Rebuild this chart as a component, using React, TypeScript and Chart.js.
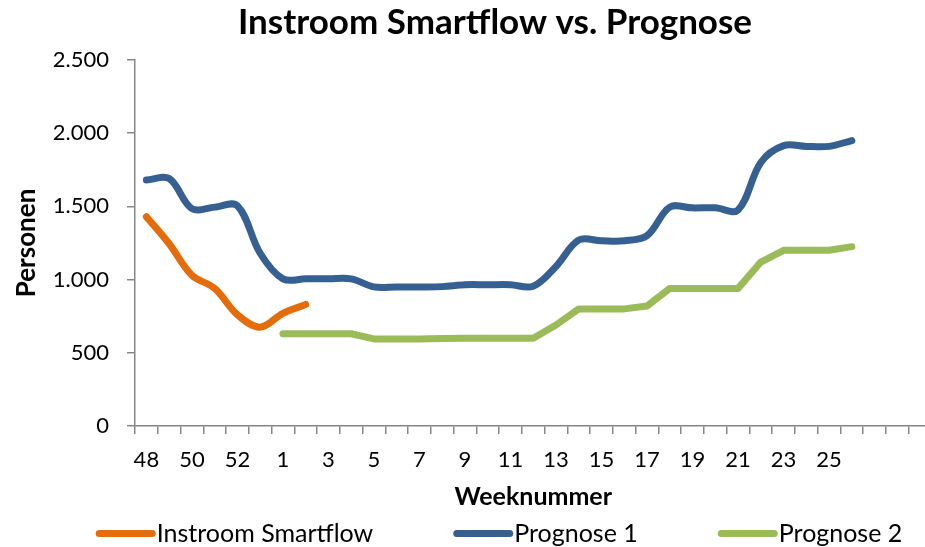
import React, { useEffect, useRef } from 'react';
import { Chart, registerables } from 'chart.js';

Chart.register(...registerables);

// ---- data ----
const weeks: string[] = [
  '48', '49', '50', '51', '52', '53',
  '1', '2', '3', '4', '5', '6', '7', '8', '9', '10', '11', '12', '13',
  '14', '15', '16', '17', '18', '19', '20', '21', '22', '23', '24', '25', '26',
  '', '', '',
];

const instroomSmartflow: (number | null)[] = [1430, 1245, 1030, 940, 760, 675, 770, 830];

const prognose1: (number | null)[] = [
  1680, 1690, 1485, 1495, 1505, 1180,
  1005, 1005, 1005, 1005, 950, 950, 950, 952, 965, 965, 965, 955, 1090,
  1270, 1265, 1265, 1300, 1495, 1490, 1490, 1475, 1800, 1915, 1910, 1910, 1950,
];

const prognose2: (number | null)[] = [
  null, null, null, null, null, null,
  630, 630, 630, 630, 595, 595, 595, 598, 600, 600, 600, 600, 690,
  800, 800, 800, 820, 940, 940, 940, 940, 1120, 1200, 1200, 1200, 1225,
];

const seriesNames = ['Instroom Smartflow', 'Prognose 1', 'Prognose 2'];
const seriesColors = ['#E46C0A', '#376092', '#9BBB59'];

const yMin = 0;
const yMax = 2500;
const yStep = 500;

const titleText = 'Instroom Smartflow vs. Prognose';
const xTitle = 'Weeknummer';
const yTitle = 'Personen';

const FONT = 'Lato';
const AXIS_COLOR = '#868686';

const fmt = (v: number) => String(Math.round(v)).replace(/\B(?=(\d{3})+(?!\d))/g, '.');

const legendPlugin = {
  id: 'excelLegend',
  afterDraw(chart: any) {
    const ctx = chart.ctx as CanvasRenderingContext2D;
    const ds = chart.data.datasets;
    const fontSize = 25;
    const swatch = 60;
    const lw = 7;
    const gap = 80;
    ctx.save();
    ctx.font = `${fontSize}px ${FONT}`;
    const widths = ds.map((d: any) => swatch + 1 + ctx.measureText(d.label).width);
    const total = widths.reduce((a: number, b: number) => a + b, 0) + gap * (ds.length - 1);
    let x = (chart.width - total) / 2 + 4;
    const y = chart.height - 13.5;
    ds.forEach((d: any, i: number) => {
      ctx.beginPath();
      ctx.strokeStyle = d.borderColor;
      ctx.lineWidth = lw;
      ctx.lineCap = 'round';
      ctx.moveTo(x + lw / 2, y);
      ctx.lineTo(x + swatch - lw / 2, y);
      ctx.stroke();
      ctx.fillStyle = '#000';
      ctx.textAlign = 'left';
      ctx.textBaseline = 'middle';
      ctx.fillText(d.label, x + swatch + 1, y);
      x += widths[i] + gap;
    });
    ctx.restore();
  },
};

export default function App() {
  const ref = useRef<HTMLCanvasElement | null>(null);

  useEffect(() => {
    if (!ref.current) return;
    const mk = (label: string, data: (number | null)[], color: string, tension: number) => ({
      label,
      data,
      borderColor: color,
      backgroundColor: color,
      borderWidth: 7,
      borderCapStyle: 'round' as const,
      borderJoinStyle: 'round' as const,
      pointRadius: 0,
      pointHoverRadius: 0,
      tension,
      fill: false,
      spanGaps: false,
    });

    const chart = new Chart(ref.current, {
      type: 'line',
      data: {
        labels: weeks,
        datasets: [
          mk(seriesNames[0], instroomSmartflow, seriesColors[0], 0.35),
          mk(seriesNames[1], prognose1, seriesColors[1], 0.35),
          mk(seriesNames[2], prognose2, seriesColors[2], 0),
        ],
      },
      options: {
        responsive: false,
        animation: false,
        devicePixelRatio: 1,
        layout: { padding: { left: 0, right: 0, top: 0, bottom: 32 } },
        plugins: {
          legend: { display: false },
          tooltip: { enabled: false },
          title: {
            display: true,
            text: titleText,
            color: '#000',
            font: { family: FONT, size: 35, weight: 'bold' },
            padding: { top: 1.5, bottom: 16.5 },
          },
        },
        scales: {
          x: {
            type: 'category',
            offset: true,
            grid: {
              offset: true,
              drawOnChartArea: false,
              drawTicks: true,
              tickLength: 8,
              color: AXIS_COLOR,
              lineWidth: 1.5,
            },
            border: { display: true, color: AXIS_COLOR, width: 1.5 },
            ticks: {
              autoSkip: false,
              maxRotation: 0,
              minRotation: 0,
              color: '#000',
              padding: 13,
              font: { family: FONT, size: 22 },
              callback: (_v: any, i: number) => (i % 2 === 0 ? weeks[i] : ''),
            },
            title: {
              display: true,
              text: xTitle,
              color: '#000',
              font: { family: FONT, size: 25, weight: 'bold' },
              padding: { top: 0, bottom: 3 },
            },
            afterFit: (s: any) => {
              s.height = 89;
            },
          },
          y: {
            type: 'linear',
            min: yMin,
            max: yMax,
            grid: {
              drawOnChartArea: false,
              drawTicks: true,
              tickLength: 8,
              color: AXIS_COLOR,
              lineWidth: 1.5,
            },
            border: { display: true, color: AXIS_COLOR, width: 1.5 },
            ticks: {
              stepSize: yStep,
              color: '#000',
              padding: 18,
              font: { family: FONT, size: 22 },
              callback: (v: any) => fmt(Number(v)),
            },
            title: {
              display: true,
              text: yTitle,
              color: '#000',
              font: { family: FONT, size: 26, weight: 'bold' },
              padding: { top: 11, bottom: 0 },
            },
            afterFit: (s: any) => {
              s.width = 135;
            },
          },
          y2: {
            type: 'linear',
            position: 'right',
            display: true,
            grid: { display: false, drawTicks: false },
            border: { display: false },
            ticks: { display: false },
            afterFit: (s: any) => {
              s.width = 58.5;
            },
          },
        },
      },
      plugins: [legendPlugin],
    } as any);
    return () => chart.destroy();
  }, []);

  return (
    <div style={{ position: 'absolute', left: 0, top: 0, width: 925, height: 547, overflow: 'hidden', background: '#fff' }}>
      <canvas ref={ref} width={990} height={547} style={{ display: 'block' }} />
    </div>
  );
}
